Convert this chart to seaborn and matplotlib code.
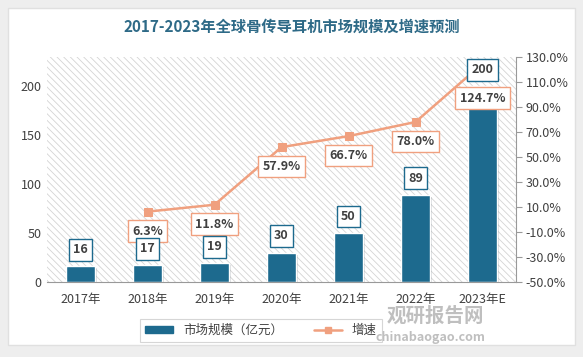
import matplotlib
matplotlib.use("Agg")
import matplotlib.pyplot as plt
import matplotlib.patheffects as pe
from matplotlib.patches import Rectangle
from matplotlib.lines import Line2D
from matplotlib.ticker import FuncFormatter
import numpy as np
import pandas as pd
import seaborn as sns

years = ["2017年", "2018年", "2019年", "2020年", "2021年", "2022年", "2023年E"]
market_size = [16, 17, 19, 30, 50, 89, 200]
growth_years = ["2018年", "2019年", "2020年", "2021年", "2022年", "2023年E"]
growth_rate = [6.3, 11.8, 57.9, 66.7, 78.0, 124.7]

BAR_COLOR = "#1d6a8e"
LINE_COLOR = "#f0a07f"
TEXT_COLOR = "#404040"

sns.set_theme(style="white")
plt.rcParams["font.family"] = ["Noto Sans CJK SC", "DejaVu Sans"]
plt.rcParams["hatch.color"] = "#d4d4d4"
plt.rcParams["hatch.linewidth"] = 0.6

fig = plt.figure(figsize=(5.83, 3.57), dpi=100, facecolor="#eeeeee")
# carte blanche
fig.patches.append(Rectangle((8 / 583, 12 / 357), 567 / 583, 337 / 357,
                             transform=fig.transFigure, facecolor="white",
                             edgecolor="#e0e0e0", zorder=-5))

ax = fig.add_axes([47 / 583, 1 - 282 / 357, 469 / 583, 225 / 357])
ax.set_facecolor("none")
ax.add_patch(Rectangle((0, 0), 1, 1, transform=ax.transAxes, facecolor="white",
                       edgecolor="#d4d4d4", hatch="\\\\\\\\\\", linewidth=0, zorder=0))

df_bar = pd.DataFrame({"year": years, "size": market_size})
sns.barplot(data=df_bar, x="year", y="size", color=BAR_COLOR, width=0.43,
            saturation=1, ax=ax, zorder=2)
for bar in ax.patches[1:]:
    bar.set_path_effects([pe.SimplePatchShadow(offset=(1.5, -1.5), alpha=0.15),
                          pe.Normal()])

ax.set_ylim(0, 230)
ax.set_xlim(-0.5, 6.5)
ax.set_yticks([0, 50, 100, 150, 200])
ax.set_xlabel("")
ax.set_ylabel("")
ax.tick_params(axis="both", labelsize=9, colors=TEXT_COLOR, length=0, pad=4)
ax.tick_params(axis="x", pad=8)
for s in ["top", "left", "right"]:
    ax.spines[s].set_visible(False)
ax.spines["bottom"].set_color("#999999")
ax.spines["bottom"].set_linewidth(0.8)

ax2 = ax.twinx()
ax2.set_facecolor("none")
x_growth = [years.index(y) for y in growth_years]
df_line = pd.DataFrame({"x": x_growth, "rate": growth_rate})
sns.lineplot(data=df_line, x="x", y="rate", color=LINE_COLOR, linewidth=1.8,
             marker="s", markersize=6, markeredgecolor=LINE_COLOR, ax=ax2, zorder=4)
ax2.set_ylim(-50, 130)
ax2.set_yticks(np.arange(-50, 131, 20))
ax2.yaxis.set_major_formatter(FuncFormatter(lambda v, p: f"{v:.1f}%"))
ax2.set_xlabel("")
ax2.set_ylabel("")
ax2.tick_params(axis="y", labelsize=9, colors="#999999", labelcolor=TEXT_COLOR,
                length=4, width=0.8, direction="out", pad=3)
for s in ["top", "left", "bottom"]:
    ax2.spines[s].set_visible(False)
ax2.spines["right"].set_color("#999999")
ax2.spines["right"].set_linewidth(0.8)
ax2.set_xlim(-0.5, 6.5)

# étiquettes des barres, posées sur ax2 pour passer au-dessus de la courbe
for i, v in enumerate(market_size):
    ax2.annotate(f"{v}", (i, v), xycoords=ax.transData, xytext=(0, 12),
                 textcoords="offset points", ha="center", va="center",
                 fontsize=9, fontweight="bold", color=TEXT_COLOR, zorder=8,
                 bbox=dict(boxstyle="square,pad=0.35", fc="white", ec=BAR_COLOR, lw=1))

for i, (xi, r) in enumerate(zip(x_growth, growth_rate)):
    dy = -25 if i == len(growth_rate) - 1 else -14
    ax2.annotate(f"{r:.1f}%", (xi, r), xytext=(0, dy), textcoords="offset points",
                 ha="center", va="center", fontsize=9, fontweight="bold",
                 color=TEXT_COLOR, zorder=7,
                 bbox=dict(boxstyle="square,pad=0.35", fc="white", ec=LINE_COLOR, lw=1))

fig.text(0.5, 1 - 27 / 357, "2017-2023年全球骨传导耳机市场规模及增速预测",
         ha="center", va="center", fontsize=11, fontweight="bold", color="#2e6a87")

# filigrane
fig.text(435 / 583, 1 - 316 / 357, "观研报告网", ha="center", va="center",
         fontsize=14, fontweight="bold", color="#b0b0b0", alpha=0.8)
fig.text(430 / 583, 1 - 338 / 357, "chinabaogao.com", ha="center", va="center",
         fontsize=9, fontweight="bold", color="#b0b0b0", alpha=0.8)

handles = [Rectangle((0, 0), 1, 1, color=BAR_COLOR),
           Line2D([0], [0], color=LINE_COLOR, lw=1.8, marker="s", markersize=5)]
leg = fig.legend(handles, ["市场规模（亿元）", "增速"], loc="center",
                 bbox_to_anchor=(261 / 583, 1 - 330 / 357), ncol=2, fontsize=9,
                 frameon=True, fancybox=False,
                 handlelength=2.2, handleheight=0.5, columnspacing=2.5)
frame = leg.get_frame()
frame.set_facecolor("none")
frame.set_edgecolor("#cccccc")
frame.set_linewidth(0.8)
for t in leg.get_texts():
    t.set_color(TEXT_COLOR)

fig.savefig("out.png", dpi=100, facecolor=fig.get_facecolor())
